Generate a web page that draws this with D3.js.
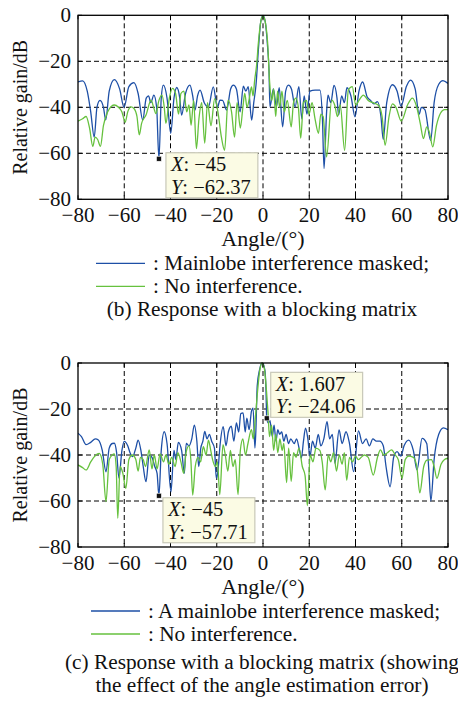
<!DOCTYPE html>
<html>
<head>
<meta charset="utf-8">
<script src="https://cdn.jsdelivr.net/npm/d3@7"></script>
<style>
  body { margin: 0; background: #fff; }
  text { font-family: "Liberation Serif", "Times New Roman", serif; fill: #111; }
</style>
</head>
<body>
<svg></svg>
<script>
// tick values
const angleTicks = [-80, -60, -40, -20, 0, 20, 40, 60, 80];
const gainTicks = [0, -20, -40, -60, -80];

// panel (b): response with a blocking matrix  [angle, dB]
const maskedB = [[-80,-29],[-78,-28.5],[-76,-33],[-74.5,-42],[-73,-53],[-71.8,-40],[-70.5,-37],[-69,-40],[-68,-45.5],[-66.5,-33],[-64.3,-28],[-62,-32],[-60.1,-40],[-58,-31],[-55.8,-29.3],[-54,-34],[-52,-45.5],[-50.5,-36],[-49.5,-35],[-48.5,-38],[-47.2,-34.7],[-46,-40],[-45,-62.37],[-44,-36],[-43.1,-30.4],[-41.5,-36],[-39.9,-51.3],[-38.5,-36],[-37.3,-31.4],[-36,-36],[-35.2,-43.4],[-33.5,-34],[-31.6,-30.4],[-30.4,-35],[-29.4,-41.2],[-28.3,-35],[-27.2,-32.5],[-25.4,-38],[-23.6,-39.8],[-21.5,-31.1],[-19.7,-40],[-18.6,-36.9],[-17.5,-37],[-15.7,-41.2],[-14,-32],[-12.8,-30.4],[-11.5,-32],[-9.9,-42],[-8.5,-30.8],[-7.4,-33],[-6.4,-31],[-4.9,-45.6],[-4,-38],[-3,-30],[-2,-15],[-1,-3],[0,0],[1,-3],[2,-14],[2.6,-24],[3,-39.8],[4.5,-32],[5.8,-39.8],[7,-31.5],[8.5,-48.5],[9.8,-33],[11,-30.4],[12.3,-32],[13.9,-39.8],[15.5,-31],[16.8,-45],[17.8,-35],[19,-43],[20.3,-33],[22.5,-32.5],[24.6,-32.5],[25.7,-45],[26.4,-66.6],[27.5,-42],[28.1,-34.7],[29.3,-38],[30.7,-30.5],[32,-36],[32.7,-43.4],[34,-35],[35.2,-38],[36.3,-31.5],[38,-35],[39.8,-44.1],[41.5,-33],[43.1,-29],[45,-35.4],[46.5,-37],[48,-38.5],[49.5,-37.5],[51,-44],[52,-54],[53.5,-38],[56,-30.2],[58,-33],[59.7,-39.5],[62,-31],[63.8,-28.2],[65.8,-32],[67.5,-43],[68.5,-40],[70,-41],[72.5,-54.4],[74,-38],[76,-30],[77.8,-28.4],[80,-29.6]];
const cleanB = [[-80,-46],[-78,-45],[-76.5,-44],[-75,-49],[-73.6,-57],[-72.6,-53],[-71.5,-54],[-70.3,-57],[-69,-48],[-67.2,-42],[-65.5,-39.5],[-64.3,-39],[-62.5,-40],[-61,-42],[-59.6,-46.5],[-58.5,-42],[-57.1,-39.8],[-55.8,-40.5],[-54.5,-44],[-53.5,-52],[-52.5,-47],[-50.6,-43.4],[-48.4,-36.9],[-47.3,-40],[-46.3,-42.7],[-45,-37],[-43.7,-34.7],[-42.7,-40],[-42,-47],[-40.5,-36],[-39.1,-31.8],[-37.8,-34],[-36.5,-43],[-35.5,-34],[-34.2,-33],[-33,-42],[-32,-39],[-31.1,-47.8],[-30,-37],[-28.8,-58],[-27.7,-45],[-26.5,-38],[-25.2,-55.6],[-24,-38],[-22.5,-48],[-20.9,-36.2],[-19.5,-42],[-18,-52.9],[-16.6,-58.7],[-15.1,-36.9],[-13.6,-42],[-12.3,-53],[-11.2,-38],[-9.8,-49],[-8.7,-40],[-7.9,-34],[-6.9,-40],[-5.9,-36],[-5,-31.1],[-4.3,-35],[-3.6,-28.2],[-2.8,-22],[-2,-12],[-1,-3],[0,-0.3],[1,-3],[2,-12],[2.9,-29.6],[3.8,-37],[4.6,-32],[5.5,-44],[6.3,-33],[7.2,-40],[8.2,-33],[9.2,-42],[10.5,-37],[12.2,-48.5],[13.2,-38],[14.2,-36],[15.3,-40],[16.3,-53.4],[17.5,-38],[18.8,-37],[19.9,-43],[21.2,-38],[22.5,-45],[24,-51.3],[25,-43],[26,-44],[27.5,-61.6],[29.7,-36.9],[31,-39],[32.2,-44],[33.4,-39],[35.3,-58.7],[36.9,-32.5],[38.6,-31],[40.1,-39],[41.5,-37],[43.4,-34.7],[45.5,-37],[47.5,-38],[49.9,-39.1],[51.5,-44],[52.8,-56.5],[54.5,-44],[56,-38.5],[57.5,-40],[59.8,-46],[62.5,-39],[64.6,-36],[66.5,-40],[68,-47],[69.4,-53.6],[70.8,-48.5],[72,-51],[73.4,-57.2],[75,-48],[76.8,-42.5],[78.5,-41],[80,-41]];

// panel (c): with angle estimation error  [angle, dB]
const maskedC = [[-80,-30.5],[-78.5,-32],[-76.5,-35.5],[-74.5,-34.5],[-72.5,-33],[-71.2,-33.5],[-69.5,-38],[-67.9,-47.3],[-66.5,-37],[-65.2,-35],[-64.3,-34.9],[-63.3,-39],[-62.3,-50],[-61,-38],[-60,-34.1],[-58.5,-36],[-57.5,-39],[-56.4,-40.7],[-55,-37],[-54,-33.5],[-52.8,-38],[-51.8,-45],[-50.6,-51.6],[-49.2,-40],[-48,-41],[-46.8,-45],[-45.8,-48],[-45,-57.71],[-44,-38],[-42.7,-29.9],[-41.5,-35],[-39.8,-56],[-38.5,-38],[-37.7,-42],[-36.6,-34.5],[-35.2,-38],[-34,-48],[-33.2,-35],[-32,-36],[-30.8,-33],[-29.7,-27],[-28.6,-34],[-27.8,-45],[-26.9,-37],[-26,-34],[-25.2,-29.7],[-24.2,-33],[-23.2,-31],[-22.2,-34],[-21,-37],[-20.2,-50],[-19.5,-47],[-18.6,-36],[-17.2,-27.7],[-16,-36],[-15,-30],[-13.7,-27.5],[-12.6,-34],[-11.5,-26],[-10.5,-30],[-9.6,-22],[-8.6,-21.7],[-7.7,-30],[-7,-24],[-6,-29],[-5,-21],[-4.3,-19.6],[-3.5,-37],[-3.1,-30],[-2.5,-10],[-1.5,-3],[-0.3,0],[0.8,-3],[1.3,-12],[1.607,-24.06],[2.3,-26],[3,-25],[4,-32],[4.8,-27],[5.6,-34],[6.4,-29],[7.2,-31],[8.1,-30],[9,-34],[10,-31],[11,-35],[12,-33],[13.5,-35],[14.5,-33],[15.8,-38],[16.6,-41.3],[17.5,-34],[18.4,-28.3],[19.4,-33],[20.3,-40.7],[21.4,-34],[22.6,-37],[23.9,-31],[25,-36],[26.3,-33],[27.7,-25.5],[28.8,-33],[30,-31],[31.1,-43.6],[32.9,-29.1],[34.2,-35],[35.9,-29.9],[37.4,-35],[39.2,-47.2],[41.3,-29.5],[43,-35],[44.6,-33],[46,-36],[47.5,-33],[49,-34],[50.5,-34],[52,-36],[53.2,-45],[55,-53.8],[56.5,-41],[58,-38.5],[59.6,-40.5],[61,-36],[63,-33.5],[65,-38],[66.6,-46.5],[68.8,-32.8],[70.8,-35],[71.8,-48],[72.6,-60],[74,-42],[76,-31],[78,-28.2],[80,-29]];
const cleanC = [[-80,-44.3],[-78,-45.5],[-76.5,-46.5],[-74.5,-43],[-72.9,-40.7],[-70.8,-39.3],[-69.3,-44],[-67.9,-60.3],[-66.5,-42],[-65.2,-40],[-64.3,-39.5],[-63.5,-45],[-62.8,-67.5],[-61.8,-45],[-60.6,-48],[-59.3,-54.5],[-58,-42],[-56.5,-40],[-55,-42],[-54,-47],[-53,-41],[-51.8,-42],[-50.8,-45],[-49.2,-37.8],[-48,-46],[-47,-40],[-45.8,-46],[-44.5,-39.5],[-43,-43],[-42,-40],[-40.7,-44],[-39.5,-41],[-38,-45],[-36.8,-39],[-35.5,-43],[-34.3,-48],[-33.2,-38.5],[-32,-36],[-31.2,-42],[-30.4,-57.4],[-29.3,-45],[-28.1,-41],[-27,-43],[-25.8,-36.4],[-24.6,-40],[-23.6,-33.5],[-22.6,-38],[-21.8,-42],[-20.6,-45],[-19.7,-43],[-18.7,-57.2],[-17.3,-35.5],[-16.3,-40],[-15.2,-47],[-14.1,-38],[-13,-45],[-12,-42],[-10.8,-57.2],[-9.8,-38],[-8.7,-33],[-7.6,-40],[-6.5,-35],[-5,-29],[-4.2,-33],[-3.4,-25],[-2.5,-14],[-1.5,-4],[-0.5,0],[0.5,-2],[1.5,-12],[2.2,-22],[2.8,-32],[3.7,-27],[4.6,-38],[5.5,-31],[6.4,-39],[7.3,-33],[8.3,-38],[9,-35],[10.2,-52],[11.1,-37],[12.2,-51.5],[13.2,-39],[14.3,-41],[15.6,-37],[17,-45],[18.2,-49],[19.2,-62],[20.4,-40],[21.6,-43],[22.9,-37],[24.6,-38],[25.6,-43],[26.9,-55.2],[28.2,-40],[29.3,-43],[30.5,-39],[31.8,-47],[33,-40],[34.2,-44],[35.2,-39],[36.2,-51],[37.4,-41],[38.7,-43],[40,-40.5],[41.2,-42],[42.5,-41],[43.8,-40],[45.5,-41],[47.7,-48.7],[49.5,-41],[50.8,-37.8],[52.2,-40],[53.8,-39],[55.6,-37.8],[57.2,-40],[58.5,-42],[60.1,-50.1],[61.5,-42],[63,-40.5],[65,-41],[66.5,-45],[67.8,-56.5],[69.5,-45],[70.9,-42.2],[72.8,-42],[74,-45],[75.2,-50.1],[77,-44],[78.5,-42],[80,-41.4]];

// data tips
const tipsB = [{ x: -45, y: -62.37, dx: 7, dy: -6 }];
const tipsC = [
  { x: -45, y: -57.71, dx: 4, dy: 2 },
  { x: 1.607, y: -24.06, dx: 4, dy: -46 }
];

const blue = "#1d4fa6";
const green = "#66c13e";

const svg = d3.select("svg").attr("width", 458).attr("height", 701);
const x = d3.scaleLinear().domain([-80, 80]).range([78, 448]);
const fmt = v => String(v).replace("-", "\u2212");

function panel(p) {
  const y = d3.scaleLinear().domain([-80, 0]).range([p.top + 184, p.top]);
  const g = svg.append("g");
  const id = "clip" + Math.round(p.top);

  g.append("clipPath").attr("id", id).append("rect")
    .attr("x", x(-80)).attr("y", y(0) - 2).attr("width", x(80) - x(-80)).attr("height", y(-80) - y(0) + 2);

  // dashed grid
  g.selectAll(".gx").data(angleTicks.slice(1, -1)).join("line")
    .attr("x1", d => x(d)).attr("x2", d => x(d))
    .attr("y1", y(0)).attr("y2", y(-80))
    .attr("stroke", "#000").attr("stroke-width", 1).attr("stroke-dasharray", "5,3");
  g.selectAll(".gy").data(gainTicks.slice(1, -1)).join("line")
    .attr("x1", x(-80)).attr("x2", x(80))
    .attr("y1", d => y(d)).attr("y2", d => y(d))
    .attr("stroke", "#000").attr("stroke-width", 1).attr("stroke-dasharray", "5,3");

  const line = d3.line().x(d => x(d[0])).y(d => y(d[1])).curve(d3.curveMonotoneX);
  const lines = g.append("g").attr("clip-path", `url(#${id})`);
  lines.append("path").datum(p.masked).attr("d", line)
    .attr("fill", "none").attr("stroke", blue).attr("stroke-width", 1.3);
  lines.append("path").datum(p.clean).attr("d", line)
    .attr("fill", "none").attr("stroke", green).attr("stroke-width", 1.3);

  // frame with inward ticks
  g.append("rect").attr("x", x(-80)).attr("y", y(0))
    .attr("width", x(80) - x(-80)).attr("height", y(-80) - y(0))
    .attr("fill", "none").attr("stroke", "#000").attr("stroke-width", 1.3);
  const tk = 4;
  angleTicks.forEach(t => {
    g.append("line").attr("x1", x(t)).attr("x2", x(t)).attr("y1", y(-80)).attr("y2", y(-80) - tk).attr("stroke", "#000");
    g.append("line").attr("x1", x(t)).attr("x2", x(t)).attr("y1", y(0)).attr("y2", y(0) + tk).attr("stroke", "#000");
  });
  gainTicks.forEach(t => {
    g.append("line").attr("x1", x(-80)).attr("x2", x(-80) + tk).attr("y1", y(t)).attr("y2", y(t)).attr("stroke", "#000");
    g.append("line").attr("x1", x(80)).attr("x2", x(80) - tk).attr("y1", y(t)).attr("y2", y(t)).attr("stroke", "#000");
  });

  // tick labels
  g.selectAll(".xl").data(angleTicks).join("text")
    .attr("x", d => x(d)).attr("y", y(-80) + 23)
    .attr("text-anchor", "middle").attr("font-size", 21)
    .text(d => d3.format("d")(d));
  g.selectAll(".yl").data(gainTicks).join("text")
    .attr("x", 71).attr("y", d => y(d) + 7)
    .attr("text-anchor", "end").attr("font-size", 21)
    .text(d => d3.format("d")(d));

  g.append("text").attr("x", 263).attr("y", y(-80) + 47)
    .attr("text-anchor", "middle").attr("font-size", 22).text("Angle/(°)");
  g.append("text")
    .attr("transform", `translate(27,${(y(0) + y(-80)) / 2}) rotate(-90)`)
    .attr("text-anchor", "middle").attr("font-size", 20).text("Relative gain/dB");

  // legend
  p.legend.forEach((lab, i) => {
    const ly = y(-80) + 64 + i * 23;
    g.append("line").attr("x1", p.legX).attr("x2", p.legX + 49)
      .attr("y1", ly).attr("y2", ly)
      .attr("stroke", i === 0 ? blue : green).attr("stroke-width", 1.3);
    g.append("text").attr("x", p.legX + 57).attr("y", ly + 7)
      .attr("font-size", 21.3).text(lab);
  });
  p.caption.forEach((c, i) => {
    g.append("text").attr("x", 262).attr("y", y(-80) + 117 + i * 22.5 + (p.caption.length > 1 ? 5 : 0))
      .attr("text-anchor", "middle").attr("font-size", 21.3).text(c);
  });

  // data tips
  p.tips.forEach(t => {
    const px = x(t.x), py = y(t.y);
    const tg = g.append("g");
    const bx = px + t.dx, by = py + t.dy;
    const box = tg.append("rect").attr("x", bx).attr("y", by)
      .attr("fill", "#fbfbe4").attr("stroke", "#c8c8b8").attr("stroke-width", 1.2);
    const t1 = tg.append("text").attr("x", bx + 5).attr("y", by + 18.5).attr("font-size", 20.5)
      .html(`<tspan font-style="italic">X</tspan>: ${fmt(t.x)}`);
    const t2 = tg.append("text").attr("x", bx + 5).attr("y", by + 41).attr("font-size", 20.5)
      .html(`<tspan font-style="italic">Y</tspan>: ${fmt(t.y)}`);
    const w = Math.max(t1.node().getBBox().width, t2.node().getBBox().width) + 12;
    box.attr("width", w).attr("height", 45);
    tg.append("rect").attr("x", px - 2.5).attr("y", py - 2.5).attr("width", 5).attr("height", 5)
      .attr("fill", "#111").attr("stroke", "#fff").attr("stroke-width", 0.6);
  });
}

panel({
  top: 15.3, masked: maskedB, clean: cleanB, tips: tipsB, legX: 96,
  legend: [": Mainlobe interference masked;", ": No interference."],
  caption: ["(b) Response with a blocking matrix"]
});
panel({
  top: 363, masked: maskedC, clean: cleanC, tips: tipsC, legX: 91,
  legend: [": A mainlobe interference masked;", ": No interference."],
  caption: ["(c) Response with a blocking matrix (showing", "the effect of the angle estimation error)"]
});
</script>
</body>
</html>
